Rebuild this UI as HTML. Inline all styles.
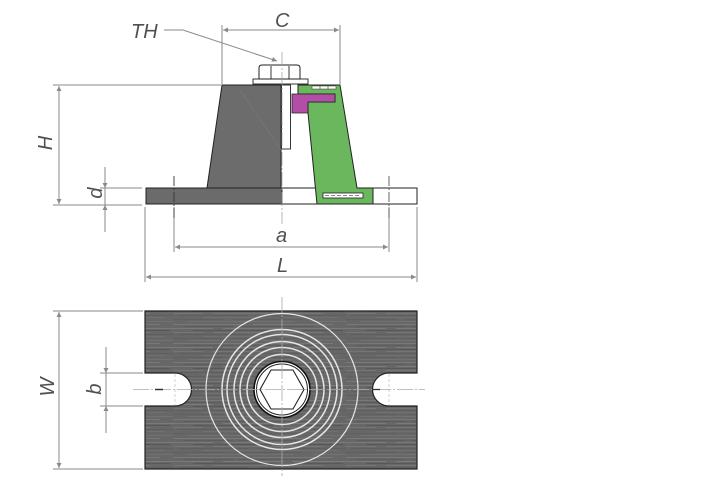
<!DOCTYPE html>
<html><head><meta charset="utf-8"><style>
html,body{margin:0;padding:0;background:#fff;}
svg{display:block;}
text{font-family:"Liberation Sans",sans-serif;font-style:italic;fill:#505050;}
</style></head><body>
<svg width="708" height="480" viewBox="0 0 708 480" xmlns="http://www.w3.org/2000/svg">
<defs>
<marker id="ar" viewBox="0 0 10 10" refX="10" refY="5" markerWidth="7" markerHeight="5" orient="auto-start-reverse" markerUnits="userSpaceOnUse">
<path d="M0,0 L10,5 L0,10 z" fill="#8a8a8a"/>
</marker>
<pattern id="brush" width="173" height="19" patternUnits="userSpaceOnUse">
<rect width="173" height="19" fill="#676767"/>
<path d="M0,1.5H70 M80,1.5H160" stroke="#7e7e7e" stroke-width="0.8"/>
<path d="M10,3.5H60 M65,3.5H140" stroke="#5a5a5a" stroke-width="0.8"/>
<path d="M0,5.5H40 M50,5.5H110 M120,5.5H173" stroke="#808080" stroke-width="0.7"/>
<path d="M20,7.5H100 M130,7.5H170" stroke="#585858" stroke-width="0.9"/>
<path d="M0,9.5H30 M40,9.5H95 M100,9.5H150" stroke="#7a7a7a" stroke-width="0.7"/>
<path d="M5,11.5H75 M85,11.5H173" stroke="#5c5c5c" stroke-width="0.8"/>
<path d="M30,13.5H90 M110,13.5H165" stroke="#787878" stroke-width="0.6"/>
<path d="M0,15.5H50 M60,15.5H130" stroke="#5e5e5e" stroke-width="0.7"/>
<path d="M15,17.5H120 M140,17.5H173" stroke="#7c7c7c" stroke-width="0.6"/>
</pattern>
</defs>

<!-- ===== SIDE VIEW ===== -->
<g stroke="#8a8a8a" stroke-width="1" fill="none">
  <line x1="222" y1="25" x2="222" y2="84"/>
  <line x1="340" y1="25" x2="340" y2="84"/>
  <line x1="223" y1="30" x2="339" y2="30" marker-start="url(#ar)" marker-end="url(#ar)"/>
  <polyline points="164,30 183,30 277,61" marker-end="url(#ar)"/>
  <line x1="53" y1="85" x2="221" y2="85"/>
  <line x1="53" y1="205" x2="142" y2="205"/>
  <line x1="59" y1="86" x2="59" y2="204" marker-start="url(#ar)" marker-end="url(#ar)"/>
  <line x1="100" y1="188" x2="142" y2="188"/>
  <line x1="105" y1="167" x2="105" y2="188" marker-end="url(#ar)"/>
  <line x1="105" y1="232" x2="105" y2="205" marker-end="url(#ar)"/>
  <line x1="105" y1="188" x2="105" y2="205"/>
  <line x1="174" y1="207" x2="174" y2="252"/>
  <line x1="389" y1="207" x2="389" y2="252"/>
  <line x1="175" y1="247" x2="388" y2="247" marker-start="url(#ar)" marker-end="url(#ar)"/>
  <line x1="145" y1="207" x2="145" y2="282"/>
  <line x1="417" y1="207" x2="417" y2="282"/>
  <line x1="146" y1="277" x2="416" y2="277" marker-start="url(#ar)" marker-end="url(#ar)"/>
</g>

<rect x="146" y="188" width="136" height="16" fill="#6b6b6b" stroke="#222" stroke-width="1"/>
<rect x="282" y="188" width="135" height="16" fill="#fff" stroke="#222" stroke-width="1"/>
<polygon points="222,85 281,85 281,188 207,188" fill="#6c6c6c" stroke="#222" stroke-width="1"/>
<line x1="240" y1="90" x2="281" y2="150" stroke="#7a7a7a" stroke-width="0.6"/>
<polygon points="298,85 340,85 357,188 373,188 373,204 317,204 308,113 308,102 335,102 335,94 298,94" fill="#6bb75d" stroke="#222" stroke-width="1"/>
<polygon points="292,94 335,94 335,102 308,102 308,113 292,113" fill="#b24ea5" stroke="#222" stroke-width="0.8"/>
<rect x="312" y="86" width="24" height="3" fill="#fff" stroke="#333" stroke-width="0.5"/>
<line x1="320" y1="86" x2="320" y2="89" stroke="#333" stroke-width="0.6"/>
<line x1="328" y1="86" x2="328" y2="89" stroke="#333" stroke-width="0.6"/>
<rect x="323" y="193" width="40" height="5" fill="#fff" stroke="#222" stroke-width="0.8"/>
<line x1="325" y1="195.5" x2="361" y2="195.5" stroke="#888" stroke-width="1" stroke-dasharray="4,2"/>
<rect x="281.5" y="85" width="9" height="64" fill="#fff" stroke="#222" stroke-width="0.9"/>
<rect x="253" y="79" width="55" height="5" fill="#fff" stroke="#222" stroke-width="0.9"/>
<path d="M259,79 V68 Q259,65 262,65 H297 Q300,65 300,68 V79 Z" fill="#fff" stroke="#222" stroke-width="1"/>
<line x1="271" y1="66" x2="271" y2="79" stroke="#222" stroke-width="0.9"/>
<line x1="289" y1="66" x2="289" y2="79" stroke="#222" stroke-width="0.9"/>
<line x1="282" y1="52" x2="282" y2="224" stroke="#999" stroke-width="0.7" stroke-dasharray="14,2,2,2"/>
<line x1="174" y1="176" x2="174" y2="220" stroke="#333" stroke-width="0.9" stroke-dasharray="10,2,2,2"/>
<line x1="389" y1="176" x2="389" y2="220" stroke="#555" stroke-width="0.9" stroke-dasharray="10,2,2,2"/>

<text x="131" y="38" font-size="20">TH</text>
<text x="275" y="27" font-size="20">C</text>
<text x="276" y="242" font-size="20">a</text>
<text x="277" y="272" font-size="20">L</text>
<text transform="translate(52,143) rotate(-90)" font-size="20" text-anchor="middle">H</text>
<text transform="translate(102,193) rotate(-90)" font-size="20" text-anchor="middle">d</text>

<!-- ===== TOP VIEW ===== -->
<g stroke="#8a8a8a" stroke-width="1" fill="none">
  <line x1="53" y1="311" x2="143" y2="311"/>
  <line x1="53" y1="469" x2="143" y2="469"/>
  <line x1="59" y1="312" x2="59" y2="468" marker-start="url(#ar)" marker-end="url(#ar)"/>
  <line x1="100" y1="373" x2="143" y2="373"/>
  <line x1="100" y1="406" x2="143" y2="406"/>
  <line x1="106" y1="347" x2="106" y2="373" marker-end="url(#ar)"/>
  <line x1="106" y1="433" x2="106" y2="406" marker-end="url(#ar)"/>
  <line x1="106" y1="373" x2="106" y2="406"/>
</g>
<path d="M145,311 H417 V373 H389 A16.5,16.5 0 0 0 389,406 H417 V469 H145 V406 H175 A16.5,16.5 0 0 0 175,373 H145 Z" fill="url(#brush)" stroke="#222" stroke-width="1.2"/>
<g fill="none" stroke="#e6e6e6">
  <circle cx="282" cy="389.5" r="76" stroke-width="1.2"/>
  <circle cx="282" cy="389.5" r="60" stroke-width="1.5"/>
  <circle cx="282" cy="389.5" r="55" stroke-width="1.5"/>
  <circle cx="282" cy="389.5" r="48" stroke-width="1.5"/>
  <circle cx="282" cy="389.5" r="42" stroke-width="1.5"/>
  <circle cx="282" cy="389.5" r="35" stroke-width="1.5"/>
</g>
<circle cx="282" cy="389.5" r="28" fill="#fff" stroke="#111" stroke-width="1.6"/>
<circle cx="282" cy="389.5" r="25.5" fill="#fff" stroke="#222" stroke-width="1"/>
<polygon points="260,389.5 271,370 293,370 304,389.5 293,409 271,409" fill="#fff" stroke="#222" stroke-width="1.1"/>
<line x1="133" y1="389.5" x2="425" y2="389.5" stroke="#aaa" stroke-width="0.8" stroke-dasharray="16,2,2,2"/>
<line x1="282" y1="297" x2="282" y2="476" stroke="#aaa" stroke-width="0.8" stroke-dasharray="16,2,2,2"/>
<line x1="155" y1="389.5" x2="163" y2="389.5" stroke="#333" stroke-width="1.5"/>
<line x1="175" y1="374" x2="175" y2="405" stroke="#bbb" stroke-width="0.7" stroke-dasharray="3,2"/>
<line x1="389" y1="374" x2="389" y2="405" stroke="#bbb" stroke-width="0.7" stroke-dasharray="3,2"/>
<line x1="372" y1="389.5" x2="380" y2="389.5" stroke="#333" stroke-width="1.3"/>

<text transform="translate(54,387) rotate(-90)" font-size="20" text-anchor="middle">W</text>
<text transform="translate(101,389) rotate(-90)" font-size="20" text-anchor="middle">b</text>
</svg>
</body></html>
